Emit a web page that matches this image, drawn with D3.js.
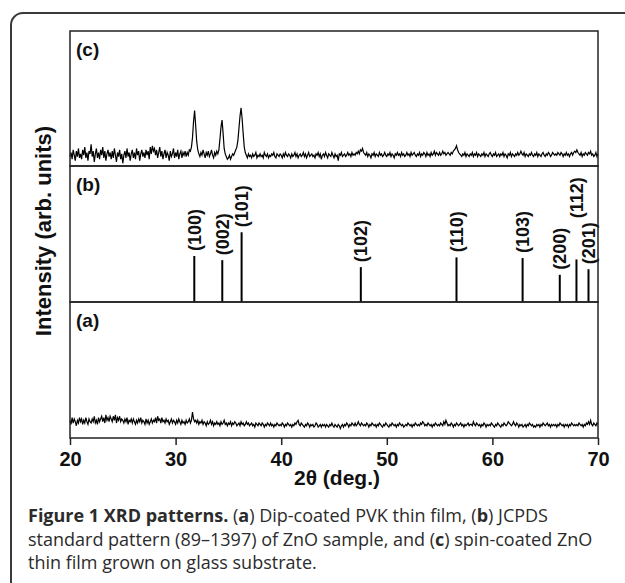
<!DOCTYPE html>
<html>
<head>
<meta charset="utf-8">
<script src="https://cdn.jsdelivr.net/npm/d3@7"></script>
<style>
  body { margin: 0; background: #fff; }
  svg { display: block; }
</style>
</head>
<body>
<div id="container"></div>
<script>
// 2-theta grid for the measured traces: 20..70 deg, step 0.1 (one row = 1 deg)
const thetaStart = 20;
const thetaStep = 0.1;

// (c) spin-coated ZnO film (arb. units)
const traceC = [
  7, 10, 5, 12, 8, 4, 11, 7, 13, 6,
  9, 5, 12, 8, 14, 6, 10, 4, 11, 9,
  16, 7, 11, 3, 9, 13, 6, 10, 5, 12,
  8, 14, 6, 11, 4, 9, 12, 7, 10, 5,
  11, 6, 13, 8, 3, 10, 7, 12, 5, 9,
  2, 8, 11, 6, 13, 7, 10, 4, 9, 12,
  6, 10, 5, 13, 8, 11, 4, 9, 12, 7,
  10, 6, 12, 8, 11, 5, 14, 9, 15, 11,
  13, 8, 12, 6, 10, 14, 7, 11, 5, 9,
  12, 6, 10, 8, 4, 11, 7, 9, 13, 6,
  10, 7, 12, 5, 9, 11, 6, 10, 8, 11,
  7, 10, 8, 12, 11, 14, 21, 33, 41, 30,
  18, 12, 9, 7, 10, 8, 12, 9, 6, 10,
  8, 11, 7, 9, 12, 8, 6, 10, 8, 11,
  9, 12, 20, 29, 34, 24, 13, 9, 7, 5,
  6, 8, 5, 7, 9, 8, 10, 12, 14, 19,
  28, 37, 43, 35, 24, 14, 10, 8, 6, 9,
  7, 8, 6, 9, 7, 8, 10, 6, 8, 7,
  9, 7, 8, 6, 10, 8, 7, 9, 6, 8,
  7, 9, 8, 10, 7, 6, 9, 8, 7, 9,
  8, 6, 9, 7, 10, 8, 7, 9, 8, 6,
  9, 7, 8, 10, 7, 9, 6, 8, 9, 7,
  8, 10, 7, 9, 6, 8, 10, 7, 8, 9,
  7, 8, 6, 9, 8, 10, 7, 9, 5, 8,
  9, 7, 10, 8, 6, 9, 8, 7, 10, 8,
  6, 9, 7, 8, 4, 9, 8, 10, 7, 8,
  9, 7, 8, 10, 8, 9, 7, 10, 8, 9,
  8, 10, 9, 11, 9, 12, 11, 13, 10, 9,
  8, 10, 7, 9, 8, 6, 9, 8, 10, 7,
  9, 8, 7, 10, 8, 9, 7, 8, 10, 8,
  7, 9, 8, 10, 7, 9, 8, 6, 9, 8,
  10, 8, 9, 7, 10, 8, 9, 7, 8, 10,
  8, 9, 7, 10, 8, 9, 10, 8, 7, 9,
  8, 10, 7, 9, 8, 10, 9, 7, 10, 8,
  9, 7, 10, 8, 9, 11, 8, 10, 9, 8,
  10, 8, 9, 11, 9, 10, 8, 9, 10, 9,
  8, 10, 9, 11, 12, 13, 15, 12, 10, 9,
  8, 7, 9, 8, 10, 7, 9, 8, 7, 9,
  8, 10, 7, 9, 8, 10, 7, 9, 8, 7,
  9, 8, 10, 7, 9, 8, 7, 9, 10, 8,
  7, 9, 8, 10, 7, 8, 9, 7, 9, 8,
  10, 7, 9, 8, 6, 9, 8, 10, 7, 9,
  8, 7, 9, 8, 10, 8, 9, 11, 9, 8,
  10, 7, 9, 8, 7, 9, 8, 10, 8, 7,
  9, 8, 10, 7, 9, 8, 7, 9, 10, 8,
  7, 9, 8, 10, 9, 7, 8, 10, 9, 8,
  9, 8, 10, 9, 8, 10, 9, 7, 9, 8,
  10, 8, 9, 7, 9, 10, 8, 10, 11, 10,
  12, 10, 9, 8, 10, 7, 9, 8, 10, 9,
  8, 10, 9, 11, 8, 9, 7, 8, 10, 7,
  9
];

// (a) dip-coated PVK film (arb. units)
const traceA = [
  13, 10, 15, 11, 14, 12, 9, 13, 11, 15,
  12, 14, 10, 13, 11, 15, 12, 10, 14, 12,
  11, 14, 12, 16, 11, 13, 10, 15, 12, 14,
  16, 12, 15, 11, 17, 13, 15, 12, 16, 14,
  12, 16, 13, 17, 11, 15, 13, 16, 12, 14,
  13, 11, 14, 12, 15, 10, 13, 12, 14, 11,
  14, 12, 10, 13, 11, 14, 12, 15, 11, 13,
  12, 10, 14, 11, 13, 10, 12, 14, 11, 13,
  12, 15, 11, 16, 13, 14, 11, 15, 12, 13,
  11, 14, 12, 13, 10, 12, 14, 11, 13, 12,
  10, 13, 11, 14, 12, 10, 13, 11, 12, 10,
  13, 11, 12, 14, 11, 13, 19, 14, 12, 13,
  11, 13, 10, 12, 11, 13, 10, 12, 11, 9,
  12, 10, 11, 13, 10, 12, 9, 11, 10, 12,
  10, 11, 9, 12, 10, 11, 13, 10, 11, 9,
  11, 10, 12, 9, 11, 10, 12, 11, 9, 10,
  11, 9, 12, 10, 11, 9, 10, 12, 10, 11,
  9, 10, 11, 9, 10, 8, 11, 10, 9, 11,
  10, 9, 11, 10, 8, 10, 9, 11, 10, 9,
  11, 9, 10, 8, 10, 9, 11, 10, 9, 10,
  9, 11, 10, 8, 10, 9, 11, 10, 9, 10,
  8, 10, 9, 11, 10, 12, 13, 10, 9, 11,
  10, 9, 8, 10, 9, 11, 10, 8, 10, 9,
  10, 8, 9, 11, 10, 8, 9, 10, 8, 10,
  9, 10, 8, 10, 9, 8, 10, 9, 11, 9,
  8, 10, 9, 8, 10, 9, 7, 9, 10, 8,
  10, 9, 11, 10, 8, 10, 9, 11, 10, 9,
  11, 9, 10, 12, 10, 9, 11, 10, 9, 10,
  9, 11, 10, 8, 10, 9, 11, 10, 9, 10,
  8, 10, 9, 11, 10, 9, 8, 10, 9, 11,
  10, 9, 8, 10, 9, 11, 10, 9, 10, 8,
  10, 9, 11, 10, 9, 10, 8, 9, 10, 9,
  11, 10, 9, 10, 8, 10, 9, 11, 10, 9,
  10, 9, 11, 10, 12, 11, 9, 10, 9, 11,
  10, 9, 10, 8, 10, 9, 11, 10, 9, 10,
  9, 11, 10, 9, 12, 10, 13, 11, 9, 10,
  9, 11, 10, 8, 10, 9, 11, 10, 9, 10,
  11, 9, 10, 8, 10, 9, 10, 11, 9, 10,
  10, 9, 12, 10, 9, 11, 10, 9, 10, 8,
  10, 9, 11, 10, 8, 10, 9, 10, 9, 11,
  10, 9, 8, 10, 9, 11, 10, 9, 8, 10,
  9, 11, 10, 9, 10, 12, 11, 10, 9, 10,
  12, 10, 9, 11, 10, 8, 10, 9, 10, 8,
  9, 10, 8, 10, 9, 11, 10, 9, 10, 8,
  9, 8, 10, 9, 10, 8, 10, 9, 11, 10,
  9, 10, 11, 9, 10, 8, 10, 9, 10, 9,
  10, 8, 10, 9, 11, 10, 9, 10, 8, 10,
  9, 10, 8, 10, 9, 11, 10, 9, 10, 9,
  10, 9, 11, 10, 9, 10, 8, 10, 9, 11,
  10, 12, 10, 13, 10, 9, 11, 10, 9, 11,
  10
];

// (b) JCPDS 89-1397 ZnO reference lines
const refPlanes = ["(100)", "(002)", "(101)", "(102)", "(110)", "(103)", "(200)", "(112)", "(201)"];
const refTheta = [31.77, 34.42, 36.25, 47.54, 56.6, 62.86, 66.38, 67.96, 69.1];
const refIntensity = [66, 60, 100, 50, 64, 63, 39, 61, 47];

const xTicks = [20, 30, 40, 50, 60, 70];
const panelNames = ["(c)", "(b)", "(a)"];

const width = 625;
const height = 583;
const plotLeft = 70;
const plotRight = 598;
const panelEdges = [31, 166, 302, 438];
const chartFont = "'Liberation Sans', Arial, sans-serif";

const svg = d3.create("svg").attr("width", width).attr("height", height);
// attach first so text can be measured
document.getElementById("container").append(svg.node());

// rounded outer figure box
svg.append("rect")
  .attr("x", 11).attr("y", 13)
  .attr("width", 700).attr("height", 580)
  .attr("rx", 12)
  .attr("fill", "none")
  .attr("stroke", "#3a3a3a")
  .attr("stroke-width", 2);

const x = d3.scaleLinear().domain([20, 70]).range([plotLeft, plotRight]);

const yC = d3.scaleLinear().domain([0, 100]).range([panelEdges[1], panelEdges[0]]);
const yB = d3.scaleLinear().domain([0, 195]).range([panelEdges[2], panelEdges[1]]);
const yA = d3.scaleLinear().domain([0, 100]).range([panelEdges[3], panelEdges[2]]);

const toPoints = (arr) => arr.map((v, i) => [thetaStart + i * thetaStep, v]);

// measured traces
[[traceC, yC], [traceA, yA]].forEach(([arr, y]) => {
  svg.append("path")
    .datum(toPoints(arr))
    .attr("fill", "none")
    .attr("stroke", "#000")
    .attr("stroke-width", 1.2)
    .attr("d", d3.line().x((d) => x(d[0])).y((d) => y(d[1])));
});

// reference stick pattern
const refData = refPlanes.map((p, i) => ({ plane: p, theta: refTheta[i], value: refIntensity[i] }));

svg.append("g")
  .selectAll("line")
  .data(refData)
  .join("line")
  .attr("x1", (d) => x(d.theta))
  .attr("x2", (d) => x(d.theta))
  .attr("y1", yB(0))
  .attr("y2", (d) => yB(d.value))
  .attr("stroke", "#000")
  .attr("stroke-width", 2);

// plane labels, stacked when two lines are too close
const labelG = svg.append("g")
  .attr("font-family", chartFont)
  .attr("font-weight", "bold")
  .attr("font-size", "18px")
  .attr("fill", "#111");
const placed = [];
refData.slice().sort((a, b) => b.theta - a.theta).forEach((d) => {
  const px = x(d.theta);
  const t = labelG.append("text").attr("dy", "0.36em").text(d.plane);
  const len = t.node().getComputedTextLength();
  let base = yB(d.value) - 5;
  placed.forEach((p) => {
    if (Math.abs(p.x - px) < 14) base = Math.min(base, p.top - 4);
  });
  t.attr("transform", `translate(${px},${base}) rotate(-90)`);
  placed.push({ x: px, top: base - len });
});

// panel frames
for (let i = 0; i < 3; i++) {
  svg.append("rect")
    .attr("x", plotLeft).attr("y", panelEdges[i])
    .attr("width", plotRight - plotLeft)
    .attr("height", panelEdges[i + 1] - panelEdges[i])
    .attr("fill", "none")
    .attr("stroke", "#222")
    .attr("stroke-width", 1.5);
}

svg.append("g")
  .attr("font-family", chartFont)
  .attr("font-weight", "bold")
  .attr("font-size", "19px")
  .attr("fill", "#111")
  .selectAll("text")
  .data(panelNames)
  .join("text")
  .attr("x", 76)
  .attr("y", (d, i) => panelEdges[i] + 25)
  .text((d) => d);

// x axis
const xAxis = svg.append("g")
  .attr("transform", `translate(0,${panelEdges[3]})`)
  .call(d3.axisBottom(x).tickValues(xTicks).tickFormat(d3.format("d")).tickSize(7).tickSizeOuter(0));
xAxis.select(".domain").remove();
xAxis.selectAll(".tick line").attr("stroke", "#222").attr("stroke-width", 1.5);
xAxis.selectAll(".tick text")
  .attr("fill", "#111")
  .attr("y", 14)
  .attr("dy", "0.71em")
  .style("font-family", chartFont)
  .style("font-weight", "bold")
  .style("font-size", "20px");

svg.append("text")
  .attr("x", (plotLeft + plotRight) / 2 + 3)
  .attr("y", 485)
  .attr("text-anchor", "middle")
  .attr("font-family", chartFont)
  .attr("font-weight", "bold")
  .attr("font-size", "21px")
  .attr("fill", "#111")
  .text("2θ (deg.)");

svg.append("text")
  .attr("transform", `translate(51,231) rotate(-90)`)
  .attr("text-anchor", "middle")
  .attr("font-family", chartFont)
  .attr("font-weight", "bold")
  .attr("font-size", "22px")
  .attr("fill", "#111")
  .text("Intensity (arb. units)");

// caption
const capLines = [
  [["Figure 1 XRD patterns.", true], [" (", false], ["a", true], [") Dip-coated PVK thin film, (", false], ["b", true], [") JCPDS", false]],
  [["standard pattern (89–1397) of ZnO sample, and (", false], ["c", true], [") spin-coated ZnO", false]],
  [["thin film grown on glass substrate.", false]]
];
const cap = svg.append("g")
  .attr("font-family", "'Open Sans', 'Noto Sans', sans-serif")
  .attr("font-size", "18px")
  .attr("fill", "#2b2b2b");
capLines.forEach((parts, i) => {
  const t = cap.append("text").attr("x", 28).attr("y", 522 + i * 23.5);
  parts.forEach(([s, b]) => {
    t.append("tspan").attr("font-weight", b ? "bold" : "normal").text(s);
  });
});
</script>
</body>
</html>
